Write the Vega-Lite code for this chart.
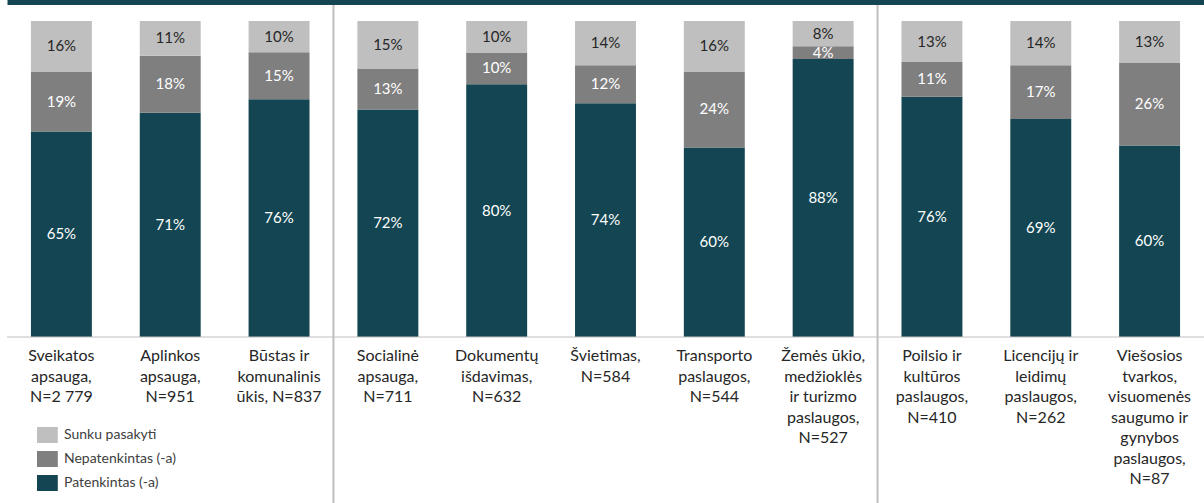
{
  "$schema": "https://vega.github.io/schema/vega-lite/v6.json",
  "width": 1197,
  "height": 501,
  "autosize": {"type": "none"},
  "padding": {"left": 7, "top": 2, "right": 0, "bottom": 0},
  "background": "white",
  "config": {"view": {"stroke": null}, "font": "Lato"},
  "datasets": {
    "bars": [
      {"cat": "Sveikatos\napsauga,\nN=2 779", "series": "Patenkintas (-a)", "ord": 1, "value": 0.65},
      {"cat": "Sveikatos\napsauga,\nN=2 779", "series": "Nepatenkintas (-a)", "ord": 2, "value": 0.19},
      {"cat": "Sveikatos\napsauga,\nN=2 779", "series": "Sunku pasakyti", "ord": 3, "value": 0.16},
      {"cat": "Aplinkos\napsauga,\nN=951", "series": "Patenkintas (-a)", "ord": 1, "value": 0.71},
      {"cat": "Aplinkos\napsauga,\nN=951", "series": "Nepatenkintas (-a)", "ord": 2, "value": 0.18},
      {"cat": "Aplinkos\napsauga,\nN=951", "series": "Sunku pasakyti", "ord": 3, "value": 0.11},
      {"cat": "Būstas ir\nkomunalinis\nūkis, N=837", "series": "Patenkintas (-a)", "ord": 1, "value": 0.76},
      {"cat": "Būstas ir\nkomunalinis\nūkis, N=837", "series": "Nepatenkintas (-a)", "ord": 2, "value": 0.15},
      {"cat": "Būstas ir\nkomunalinis\nūkis, N=837", "series": "Sunku pasakyti", "ord": 3, "value": 0.10},
      {"cat": "Socialinė\napsauga,\nN=711", "series": "Patenkintas (-a)", "ord": 1, "value": 0.72},
      {"cat": "Socialinė\napsauga,\nN=711", "series": "Nepatenkintas (-a)", "ord": 2, "value": 0.13},
      {"cat": "Socialinė\napsauga,\nN=711", "series": "Sunku pasakyti", "ord": 3, "value": 0.15},
      {"cat": "Dokumentų\nišdavimas,\nN=632", "series": "Patenkintas (-a)", "ord": 1, "value": 0.80},
      {"cat": "Dokumentų\nišdavimas,\nN=632", "series": "Nepatenkintas (-a)", "ord": 2, "value": 0.10},
      {"cat": "Dokumentų\nišdavimas,\nN=632", "series": "Sunku pasakyti", "ord": 3, "value": 0.10},
      {"cat": "Švietimas,\nN=584", "series": "Patenkintas (-a)", "ord": 1, "value": 0.74},
      {"cat": "Švietimas,\nN=584", "series": "Nepatenkintas (-a)", "ord": 2, "value": 0.12},
      {"cat": "Švietimas,\nN=584", "series": "Sunku pasakyti", "ord": 3, "value": 0.14},
      {"cat": "Transporto\npaslaugos,\nN=544", "series": "Patenkintas (-a)", "ord": 1, "value": 0.60},
      {"cat": "Transporto\npaslaugos,\nN=544", "series": "Nepatenkintas (-a)", "ord": 2, "value": 0.24},
      {"cat": "Transporto\npaslaugos,\nN=544", "series": "Sunku pasakyti", "ord": 3, "value": 0.16},
      {"cat": "Žemės ūkio,\nmedžioklės\nir turizmo\npaslaugos,\nN=527", "series": "Patenkintas (-a)", "ord": 1, "value": 0.88},
      {"cat": "Žemės ūkio,\nmedžioklės\nir turizmo\npaslaugos,\nN=527", "series": "Nepatenkintas (-a)", "ord": 2, "value": 0.04},
      {"cat": "Žemės ūkio,\nmedžioklės\nir turizmo\npaslaugos,\nN=527", "series": "Sunku pasakyti", "ord": 3, "value": 0.08},
      {"cat": "Poilsio ir\nkultūros\npaslaugos,\nN=410", "series": "Patenkintas (-a)", "ord": 1, "value": 0.76},
      {"cat": "Poilsio ir\nkultūros\npaslaugos,\nN=410", "series": "Nepatenkintas (-a)", "ord": 2, "value": 0.11},
      {"cat": "Poilsio ir\nkultūros\npaslaugos,\nN=410", "series": "Sunku pasakyti", "ord": 3, "value": 0.13},
      {"cat": "Licencijų ir\nleidimų\npaslaugos,\nN=262", "series": "Patenkintas (-a)", "ord": 1, "value": 0.69},
      {"cat": "Licencijų ir\nleidimų\npaslaugos,\nN=262", "series": "Nepatenkintas (-a)", "ord": 2, "value": 0.17},
      {"cat": "Licencijų ir\nleidimų\npaslaugos,\nN=262", "series": "Sunku pasakyti", "ord": 3, "value": 0.14},
      {"cat": "Viešosios\ntvarkos,\nvisuomenės\nsaugumo ir\ngynybos\npaslaugos,\nN=87", "series": "Patenkintas (-a)", "ord": 1, "value": 0.60},
      {"cat": "Viešosios\ntvarkos,\nvisuomenės\nsaugumo ir\ngynybos\npaslaugos,\nN=87", "series": "Nepatenkintas (-a)", "ord": 2, "value": 0.26},
      {"cat": "Viešosios\ntvarkos,\nvisuomenės\nsaugumo ir\ngynybos\npaslaugos,\nN=87", "series": "Sunku pasakyti", "ord": 3, "value": 0.13}
    ],
    "seps": [
      {"cat": "Socialinė\napsauga,\nN=711"},
      {"cat": "Poilsio ir\nkultūros\npaslaugos,\nN=410"}
    ]
  },
  "layer": [
    {
      "data": {"name": "bars"},
      "mark": {"type": "bar", "width": {"band": 0.56}},
      "encoding": {
        "x": {
          "field": "cat",
          "type": "nominal",
          "scale": {
            "domain": [
              "Sveikatos\napsauga,\nN=2 779",
              "Aplinkos\napsauga,\nN=951",
              "Būstas ir\nkomunalinis\nūkis, N=837",
              "Socialinė\napsauga,\nN=711",
              "Dokumentų\nišdavimas,\nN=632",
              "Švietimas,\nN=584",
              "Transporto\npaslaugos,\nN=544",
              "Žemės ūkio,\nmedžioklės\nir turizmo\npaslaugos,\nN=527",
              "Poilsio ir\nkultūros\npaslaugos,\nN=410",
              "Licencijų ir\nleidimų\npaslaugos,\nN=262",
              "Viešosios\ntvarkos,\nvisuomenės\nsaugumo ir\ngynybos\npaslaugos,\nN=87"
            ],
            "paddingInner": 0,
            "paddingOuter": 0
          },
          "axis": {
            "orient": "top",
            "labels": false,
            "ticks": false,
            "title": null,
            "domainColor": "#134652",
            "domainWidth": 5,
            "zindex": 2
          }
        },
        "y": {
          "field": "value",
          "type": "quantitative",
          "stack": "normalize",
          "scale": {"domain": [-0.5253, 1.0601], "nice": false, "zero": false},
          "axis": null
        },
        "color": {
          "field": "series",
          "type": "nominal",
          "scale": {
            "domain": ["Sunku pasakyti", "Nepatenkintas (-a)", "Patenkintas (-a)"],
            "range": ["#BFBFBF", "#7F7F7F", "#134652"]
          },
          "legend": {
            "orient": "none",
            "legendX": 32.4,
            "legendY": 425,
            "title": null,
            "padding": 0,
            "symbolType": "M-1.3,-1H1.3V1H-1.3Z",
            "symbolSize": 256,
            "symbolStrokeWidth": 0,
            "rowPadding": 8,
            "labelFontSize": 14,
            "labelFont": "Lato",
            "labelColor": "#404040",
            "labelOffset": 8.6
          }
        },
        "order": {"field": "ord", "type": "quantitative"}
      }
    },
    {
      "data": {"values": [{}]},
      "mark": {"type": "rule", "color": "#BFBFBF", "strokeWidth": 1},
      "encoding": {"y": {"datum": 0, "type": "quantitative"}}
    },
    {
      "data": {"name": "seps"},
      "mark": {"type": "rule", "color": "#BFBFBF", "strokeWidth": 2},
      "encoding": {"x": {"field": "cat", "type": "nominal", "bandPosition": 0}}
    },
    {
      "data": {"name": "bars"},
      "mark": {"type": "text", "fontSize": 15, "font": "Lato", "baseline": "middle", "align": "center"},
      "encoding": {
        "x": {"field": "cat", "type": "nominal"},
        "y": {"field": "value", "type": "quantitative", "stack": "normalize", "bandPosition": 0.5},
        "detail": {"field": "series", "type": "nominal"},
        "order": {"field": "ord", "type": "quantitative"},
        "text": {"field": "value", "type": "quantitative", "format": ".0%"},
        "color": {
          "condition": {"test": "datum.series === 'Sunku pasakyti'", "value": "#262626"},
          "value": "#FFFFFF"
        }
      }
    },
    {
      "data": {"name": "bars"},
      "transform": [{"filter": "datum.series === 'Patenkintas (-a)'"}],
      "mark": {
        "type": "text",
        "fontSize": 16,
        "font": "Lato",
        "baseline": "top",
        "align": "center",
        "dy": 11,
        "lineBreak": "\n",
        "lineHeight": 20.5,
        "color": "#262626"
      },
      "encoding": {
        "x": {"field": "cat", "type": "nominal"},
        "y": {"datum": 0, "type": "quantitative"},
        "text": {"field": "cat", "type": "nominal"}
      }
    }
  ]
}
